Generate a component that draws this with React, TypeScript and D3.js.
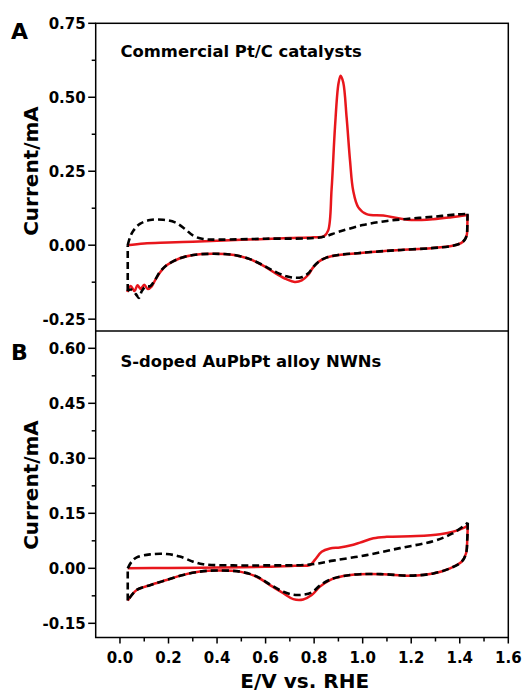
import React from "react";
import * as d3 from "d3";

type P = [number, number];

// ---- Panel A: Commercial Pt/C catalysts ----
const aRedAnodic: P[] = [
  [0.03, 0.0], [0.1, 0.006], [0.2, 0.009], [0.3, 0.012], [0.4, 0.015], [0.5, 0.018],
  [0.6, 0.021], [0.7, 0.024], [0.8, 0.027], [0.84, 0.03], [0.858, 0.05], [0.872, 0.19],
  [0.886, 0.4], [0.9, 0.545], [0.909, 0.573], [0.92, 0.55], [0.934, 0.43], [0.948, 0.285],
  [0.961, 0.184], [0.982, 0.128], [1.016, 0.105], [1.085, 0.1], [1.153, 0.09], [1.2, 0.085],
  [1.29, 0.088], [1.36, 0.094], [1.432, 0.102],
];
const aRedCathodic: P[] = [
  [1.432, 0.102], [1.431, 0.06], [1.429, 0.035], [1.42, 0.018], [1.405, 0.007], [1.371, -0.002],
  [1.282, -0.01], [1.158, -0.016], [1.07, -0.021], [0.98, -0.027], [0.9, -0.033], [0.85, -0.042],
  [0.82, -0.055], [0.796, -0.075], [0.776, -0.1], [0.749, -0.119], [0.72, -0.124], [0.686, -0.115],
  [0.645, -0.097], [0.59, -0.069], [0.535, -0.047], [0.47, -0.033], [0.384, -0.029], [0.302, -0.033],
  [0.247, -0.044], [0.192, -0.068], [0.165, -0.092], [0.145, -0.118], [0.13, -0.14], [0.115, -0.148],
  [0.1, -0.134], [0.085, -0.148], [0.072, -0.135], [0.06, -0.155], [0.044, -0.138], [0.03, -0.158],
];
const aBlackAnodic: P[] = [
  [0.032, 0.0], [0.041, 0.026], [0.055, 0.049], [0.082, 0.072], [0.124, 0.085], [0.178, 0.086],
  [0.227, 0.077], [0.268, 0.055], [0.302, 0.032], [0.343, 0.021], [0.412, 0.019], [0.6, 0.022],
  [0.83, 0.027], [0.9, 0.045], [1.0, 0.068], [1.1, 0.082], [1.2, 0.09], [1.3, 0.097],
  [1.39, 0.104], [1.432, 0.106],
];
const aBlackCathodic: P[] = [
  [1.432, 0.106], [1.431, 0.06], [1.429, 0.035], [1.42, 0.018], [1.405, 0.007], [1.371, -0.002],
  [1.282, -0.01], [1.158, -0.016], [1.07, -0.021], [0.98, -0.027], [0.9, -0.033], [0.85, -0.042],
  [0.82, -0.055], [0.796, -0.074], [0.776, -0.095], [0.749, -0.108], [0.72, -0.11], [0.686, -0.105],
  [0.645, -0.092], [0.59, -0.068], [0.535, -0.047], [0.47, -0.033], [0.384, -0.029], [0.302, -0.033],
  [0.247, -0.044], [0.192, -0.068], [0.165, -0.09], [0.144, -0.118], [0.125, -0.138], [0.105, -0.14],
  [0.09, -0.155], [0.078, -0.178], [0.065, -0.165], [0.045, -0.15], [0.032, -0.155],
];

// ---- Panel B: S-doped AuPbPt alloy NWNs ----
const bRedAnodic: P[] = [
  [0.032, 0.0], [0.2, 0.001], [0.4, 0.002], [0.6, 0.004], [0.72, 0.007], [0.783, 0.009],
  [0.803, 0.023], [0.831, 0.045], [0.865, 0.054], [0.906, 0.057], [0.948, 0.062], [0.989, 0.07],
  [1.044, 0.082], [1.099, 0.086], [1.222, 0.088], [1.319, 0.093], [1.373, 0.1], [1.429, 0.115],
  [1.433, 0.121],
];
const bRedCathodic: P[] = [
  [1.433, 0.121], [1.431, 0.08], [1.426, 0.041], [1.408, 0.018], [1.36, 0.0], [1.291, -0.014],
  [1.195, -0.02], [1.085, -0.016], [0.989, -0.016], [0.92, -0.021], [0.865, -0.032], [0.824, -0.05],
  [0.79, -0.073], [0.755, -0.085], [0.714, -0.084], [0.673, -0.068], [0.618, -0.046], [0.563, -0.023],
  [0.494, -0.009], [0.398, -0.006], [0.33, -0.009], [0.261, -0.018], [0.192, -0.032], [0.124, -0.046],
  [0.069, -0.059], [0.032, -0.088],
];
const bBlackAnodic: P[] = [
  [0.032, 0.0], [0.048, 0.018], [0.069, 0.03], [0.124, 0.038], [0.192, 0.039], [0.247, 0.032],
  [0.302, 0.018], [0.343, 0.011], [0.467, 0.008], [0.6, 0.008], [0.78, 0.01], [0.878, 0.021],
  [1.016, 0.036], [1.153, 0.055], [1.29, 0.074], [1.37, 0.095], [1.433, 0.124],
];
const bBlackCathodic: P[] = [
  [1.433, 0.124], [1.431, 0.08], [1.426, 0.041], [1.408, 0.018], [1.36, 0.0], [1.291, -0.014],
  [1.195, -0.02], [1.085, -0.016], [0.989, -0.016], [0.92, -0.021], [0.865, -0.031], [0.824, -0.047],
  [0.79, -0.066], [0.755, -0.072], [0.714, -0.072], [0.673, -0.064], [0.618, -0.044], [0.563, -0.022],
  [0.494, -0.009], [0.398, -0.006], [0.33, -0.009], [0.261, -0.018], [0.192, -0.032], [0.124, -0.046],
  [0.069, -0.059], [0.032, -0.088],
];

// ---- ticks ----
const xMajorTicks = [0.0, 0.2, 0.4, 0.6, 0.8, 1.0, 1.2, 1.4, 1.6];
const xMinorTicks = [0.1, 0.3, 0.5, 0.7, 0.9, 1.1, 1.3, 1.5];
const aYMajorTicks = [-0.25, 0.0, 0.25, 0.5, 0.75];
const aYMinorTicks = [-0.125, 0.125, 0.375, 0.625];
const bYMajorTicks = [-0.15, 0.0, 0.15, 0.3, 0.45, 0.6];
const bYMinorTicks = [-0.075, 0.075, 0.225, 0.375, 0.525];

const FONT = "'DejaVu Sans', sans-serif";
const RED = "#e8161c";

const xScale = d3.scaleLinear().domain([-0.1, 1.6]).range([95.7, 508.3]);
const yA = d3.scaleLinear().domain([-0.29, 0.75]).range([331, 23.3]);
const yB = d3.scaleLinear().domain([-0.1887, 0.6472]).range([637.5, 331]);

const fmtY = (v: number) => d3.format(".2f")(v).replace("\u2212", "-");

function Panel({
  y, majors, minors, redA, redC, blkA, blkC, title, titleY, letter, letterY, ylabelY,
}: any) {
  const line = d3
    .line<P>()
    .x((d) => xScale(d[0]))
    .y((d) => y(d[1]))
    .curve(d3.curveCatmullRom.alpha(0.5));
  const straight = d3.line<P>().x((d) => xScale(d[0])).y((d) => y(d[1]));
  const x0 = xScale.range()[0];
  const connector: P[] = [blkC[blkC.length - 1], blkA[0]];
  const dash = { fill: "none", stroke: "#000", strokeWidth: 2.6, strokeDasharray: "7,4" };
  return (
    <g>
      <path d={line(redA) || ""} fill="none" stroke={RED} strokeWidth={2.5} strokeLinejoin="round" />
      <path d={line(redC) || ""} fill="none" stroke={RED} strokeWidth={2.5} strokeLinejoin="round" />
      <path d={straight(connector) || ""} {...dash} />
      <path d={line(blkA) || ""} {...dash} />
      <path d={line(blkC) || ""} {...dash} />
      {majors.map((t: number) => (
        <g key={"M" + t}>
          <line x1={x0 - 7.5} x2={x0} y1={y(t)} y2={y(t)} stroke="#000" strokeWidth={1.5} />
          <text x={x0 - 10} y={y(t)} dy="0.36em" textAnchor="end" fontFamily={FONT} fontWeight="bold" fontSize={15}>
            {fmtY(t)}
          </text>
        </g>
      ))}
      {minors.map((t: number) => (
        <line key={"m" + t} x1={x0 - 4} x2={x0} y1={y(t)} y2={y(t)} stroke="#000" strokeWidth={1.5} />
      ))}
      <text x={120.5} y={titleY} fontFamily={FONT} fontWeight="bold" fontSize={16.4}>
        {title}
      </text>
      <text x={11} y={letterY} fontFamily={FONT} fontWeight="bold" fontSize={22}>
        {letter}
      </text>
      <text
        transform={`translate(37.5,${ylabelY}) rotate(-90)`}
        textAnchor="middle"
        fontFamily={FONT}
        fontWeight="bold"
        fontSize={20}
      >
        Current/mA
      </text>
    </g>
  );
}

export default function App() {
  const [xl, xr] = xScale.range();
  const yBottom = yB.range()[0];
  return (
    <svg width={522} height={694} style={{ position: "absolute", left: 0, top: 0, background: "#fff" }}>
      <rect x={0} y={0} width={522} height={694} fill="#fff" />
      <Panel
        y={yA} majors={aYMajorTicks} minors={aYMinorTicks}
        redA={aRedAnodic} redC={aRedCathodic} blkA={aBlackAnodic} blkC={aBlackCathodic}
        title="Commercial Pt/C catalysts" titleY={57.3} letter="A" letterY={38.5} ylabelY={171}
      />
      <Panel
        y={yB} majors={bYMajorTicks} minors={bYMinorTicks}
        redA={bRedAnodic} redC={bRedCathodic} blkA={bBlackAnodic} blkC={bBlackCathodic}
        title="S-doped AuPbPt alloy NWNs" titleY={366.7} letter="B" letterY={359.5} ylabelY={485}
      />
      <rect x={xl} y={yA.range()[1]} width={xr - xl} height={yBottom - yA.range()[1]} fill="none" stroke="#000" strokeWidth={1.5} />
      <line x1={xl} x2={xr} y1={331} y2={331} stroke="#000" strokeWidth={1.5} />
      {xMajorTicks.map((t) => (
        <g key={"x" + t}>
          <line x1={xScale(t)} x2={xScale(t)} y1={yBottom} y2={yBottom + 6} stroke="#000" strokeWidth={1.5} />
          <text x={xScale(t)} y={663} textAnchor="middle" fontFamily={FONT} fontWeight="bold" fontSize={15}>
            {d3.format(".1f")(t)}
          </text>
        </g>
      ))}
      {xMinorTicks.map((t) => (
        <line key={"xm" + t} x1={xScale(t)} x2={xScale(t)} y1={yBottom} y2={yBottom + 4} stroke="#000" strokeWidth={1.5} />
      ))}
      <text x={304.7} y={688} textAnchor="middle" fontFamily={FONT} fontWeight="bold" fontSize={20}>
        E/V vs. RHE
      </text>
    </svg>
  );
}
